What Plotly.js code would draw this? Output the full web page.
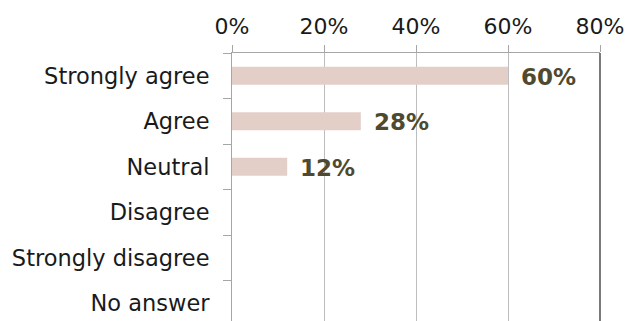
<!DOCTYPE html>
<html><head><meta charset="utf-8">
<script src="https://cdn.plot.ly/plotly-3.0.1.min.js"></script>
<style>body{margin:0;background:#fff}#c{width:633px;height:321px}</style>
</head><body><div id="c"></div>
<script>
const categories = ["Strongly agree","Agree","Neutral","Disagree","Strongly disagree","No answer"];
const values = [0.60,0.28,0.12,0,0,0];
const tickVals = [0,0.2,0.4,0.6,0.8];
const tickText = ["0%","20%","40%","60%","80%"];

const trace = {
  type:'bar', orientation:'h', y:categories, x:values,
  marker:{color:'#E3CFC8'}, width:0.4, hoverinfo:'none'
};
const annotations = values.map((v,i)=> v>0 ? {
  x:v, y:categories[i], xref:'x', yref:'y', text:Math.round(v*100)+'%',
  showarrow:false, xanchor:'left', xshift:11, yshift:-1,
  font:{family:'DejaVu Sans, Verdana, sans-serif', size:23, color:'#4F4A2F', weight:'bold'}
} : null).filter(a=>a);

const layout = {
  width:633, height:321, margin:{l:232,r:33,t:53,b:0},
  paper_bgcolor:'#fff', plot_bgcolor:'#fff', showlegend:false,
  font:{family:'DejaVu Sans, Verdana, sans-serif', size:22, color:'#1a1a1a'},
  xaxis:{side:'top', range:[0,0.8], tickvals:tickVals, ticktext:tickText,
    showgrid:true, gridcolor:'#BDBDBD', gridwidth:1, zeroline:false,
    showline:true, linecolor:'#A6A6A6', linewidth:1,
    ticks:'outside', ticklen:7, tickcolor:'#A6A6A6', tickfont:{size:22},
    ticklabelstandoff:2},
  yaxis:{type:'category', categoryorder:'array', categoryarray:categories,
    range:[5.39,-0.5], showgrid:false, zeroline:false,
    showline:true, linecolor:'#A6A6A6', linewidth:1,
    ticks:'outside', ticklen:8, tickcolor:'#A6A6A6', tickson:'boundaries',
    tickfont:{size:22.5}, ticklabelstandoff:17},
  shapes:[{type:'line', xref:'paper', yref:'paper', x0:1, x1:1, y0:0, y1:1, line:{color:'#222', width:1.2}}],
  annotations:annotations
};
Plotly.newPlot('c',[trace],layout,{displayModeBar:false,staticPlot:true});
</script></body></html>
